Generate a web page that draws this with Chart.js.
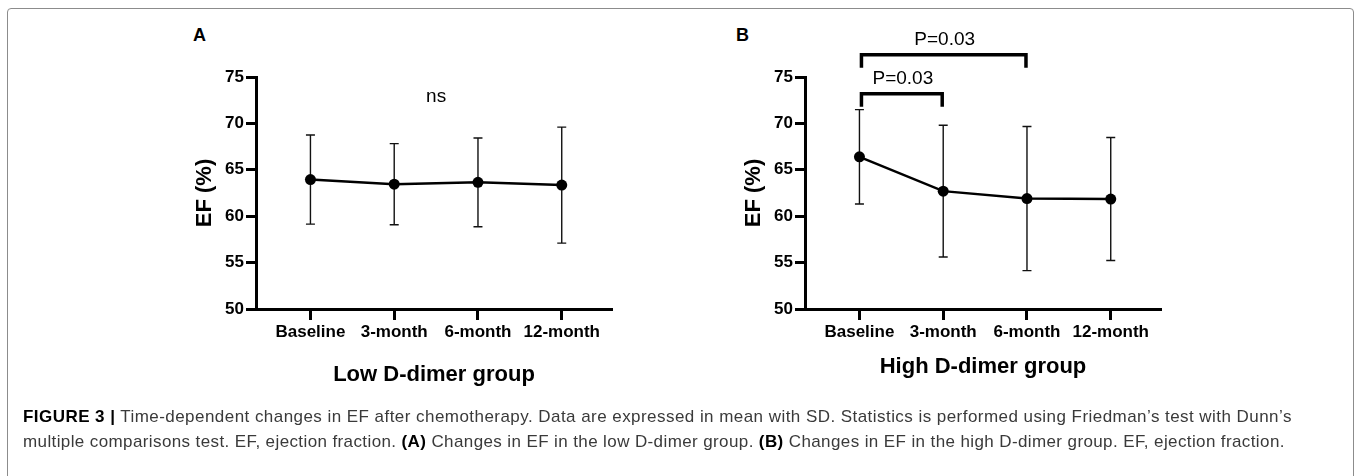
<!DOCTYPE html>
<html>
<head>
<meta charset="utf-8">
<script src="https://cdn.jsdelivr.net/npm/chart.js@4/dist/chart.umd.min.js"></script>
<style>
  body { margin: 0; background: #fff; width: 1357px; height: 476px; overflow: hidden; position: relative; font-family: "Liberation Sans", Arial, sans-serif; }
  .frame { position: absolute; left: 7px; top: 8px; width: 1345px; height: 490px; border: 1.5px solid #8c8c8c; border-radius: 4px; }
  .panel { position: absolute; top: 0; width: 520px; height: 410px; }
  .tag { position: absolute; font-weight: bold; font-size: 18px; color: #000; }
  .caption { position: absolute; left: 23px; top: 404px; font-size: 17px; letter-spacing: 0.45px; line-height: 25px; color: #3a3a3a; white-space: nowrap; }
  .caption .l2 { letter-spacing: 0.39px; }
  .caption b { color: #000; }
</style>
</head>
<body>
<div class="frame"></div>
<div class="tag" style="left:193px; top:25px;">A</div>
<div class="tag" style="left:736px; top:25px;">B</div>
<div class="panel" style="left:130px;"><canvas id="chartA"></canvas></div>
<div class="panel" style="left:679px;"><canvas id="chartB"></canvas></div>
<div class="caption">
  <div><b>FIGURE 3 |</b> Time-dependent changes in EF after chemotherapy. Data are expressed in mean with SD. Statistics is performed using Friedman’s test with Dunn’s</div>
  <div class="l2">multiple comparisons test. EF, ejection fraction. <b>(A)</b> Changes in EF in the low D-dimer group. <b>(B)</b> Changes in EF in the high D-dimer group. EF, ejection fraction.</div>
</div>
<script>
const timepoints = ['Baseline', '3-month', '6-month', '12-month'];
const lowMean = [63.95, 63.45, 63.65, 63.35];
const lowSD = [4.8, 4.37, 4.78, 6.25];
const highMean = [66.4, 62.7, 61.9, 61.85];
const highSD = [5.08, 7.1, 7.76, 6.63];
const yTicks = [50, 55, 60, 65, 70, 75];
// comparison brackets for panel B: [from index, to index, level, label]
const highBrackets = [[0, 1, 73.2, 'P=0.03'], [0, 2, 77.4, 'P=0.03']];

const FONT = '"Liberation Sans", Arial, sans-serif';

const errorBars = {
  id: 'errorBars',
  beforeDatasetsDraw(chart) {
    const {ctx, scales: {x, y}} = chart;
    const o = chart.options.plugins.errorBars;
    ctx.save();
    ctx.strokeStyle = '#111';
    ctx.lineWidth = 1.4;
    o.mean.forEach((m, i) => {
      const px = x.getPixelForValue(i);
      const top = y.getPixelForValue(m + o.sd[i]);
      const bot = y.getPixelForValue(m - o.sd[i]);
      ctx.beginPath();
      ctx.moveTo(px, top); ctx.lineTo(px, bot);
      ctx.moveTo(px - 4.5, top); ctx.lineTo(px + 4.5, top);
      ctx.moveTo(px - 4.5, bot); ctx.lineTo(px + 4.5, bot);
      ctx.stroke();
    });
    ctx.restore();
  }
};

const notes = {
  id: 'notes',
  afterDraw(chart) {
    const {ctx, scales: {x, y}} = chart;
    const o = chart.options.plugins.notes;
    ctx.save();
    ctx.fillStyle = '#000';
    ctx.strokeStyle = '#000';
    ctx.textAlign = 'center';
    ctx.textBaseline = 'middle';
    ctx.font = '19px ' + FONT;
    if (o.ns) {
      ctx.fillText('ns', x.getPixelForValue(1.5), chart.chartArea.top + 20);
    }
    ctx.lineWidth = 3.5;
    ctx.lineCap = 'butt';
    o.brackets.forEach(([a, b, level, label]) => {
      const x1 = x.getPixelForValue(a) + 2;
      const x2 = x.getPixelForValue(b) - 1;
      const py = y.getPixelForValue(level);
      ctx.beginPath();
      ctx.moveTo(x1, py + 13); ctx.lineTo(x1, py); ctx.lineTo(x2, py); ctx.lineTo(x2, py + 13);
      ctx.stroke();
      ctx.fillText(label, (x1 + x2) / 2 + 1, py - 15);
    });
    ctx.restore();
  }
};

function makeChart (elem, mean, sd, title, titlePad, brackets, ns) {
  return new Chart(elem, {
    type: 'line',
    data: {
      datasets: [{
        data: mean.map((v, i) => ({x: i, y: v})),
        borderColor: '#000',
        backgroundColor: '#000',
        borderWidth: 2.5,
        pointRadius: 5.5,
        pointBackgroundColor: '#000',
        pointBorderWidth: 0,
        tension: 0
      }]
    },
    options: {
      responsive: true,
      maintainAspectRatio: false,
      animation: false,
      layout: { padding: { left: 60, top: 77, right: 38, bottom: 0 } },
      plugins: {
        legend: { display: false },
        tooltip: { enabled: false },
        errorBars: { mean: mean, sd: sd },
        notes: { brackets: brackets, ns: ns }
      },
      scales: {
        x: {
          type: 'linear',
          min: -0.65,
          max: 3.6,
          afterBuildTicks: s => { s.ticks = timepoints.map((t, i) => ({value: i})); },
          afterFit: s => { s.height = 101; },
          ticks: {
            color: '#000',
            font: { family: FONT, size: 17, weight: 'bold' },
            padding: 2,
            maxRotation: 0,
            callback: v => timepoints[v]
          },
          grid: { drawOnChartArea: false, drawTicks: true, tickLength: 11, tickWidth: 3, tickColor: '#000' },
          border: { display: true, color: '#000', width: 3 },
          title: {
            display: true,
            text: title,
            color: '#000',
            font: { family: FONT, size: 22, weight: 'bold' },
            padding: { bottom: titlePad }
          }
        },
        y: {
          min: 50,
          max: 75,
          afterBuildTicks: s => { s.ticks = yTicks.map(v => ({value: v})); },
          afterFit: s => { s.width = 66; },
          ticks: {
            color: '#000',
            font: { family: FONT, size: 17, weight: 'bold' },
            padding: 2
          },
          grid: { drawOnChartArea: false, drawTicks: true, tickLength: 10, tickWidth: 3, tickColor: '#000' },
          border: { display: true, color: '#000', width: 3 },
          title: {
            display: true,
            text: 'EF (%)',
            color: '#000',
            font: { family: FONT, size: 22, weight: 'bold' },
            padding: { top: 2 }
          }
        }
      }
    },
    plugins: [errorBars, notes]
  });
}

makeChart(document.getElementById('chartA'), lowMean, lowSD, 'Low D-dimer group', 22, [], true);
makeChart(document.getElementById('chartB'), highMean, highSD, 'High D-dimer group', 30, highBrackets, false);
</script>
</body>
</html>
